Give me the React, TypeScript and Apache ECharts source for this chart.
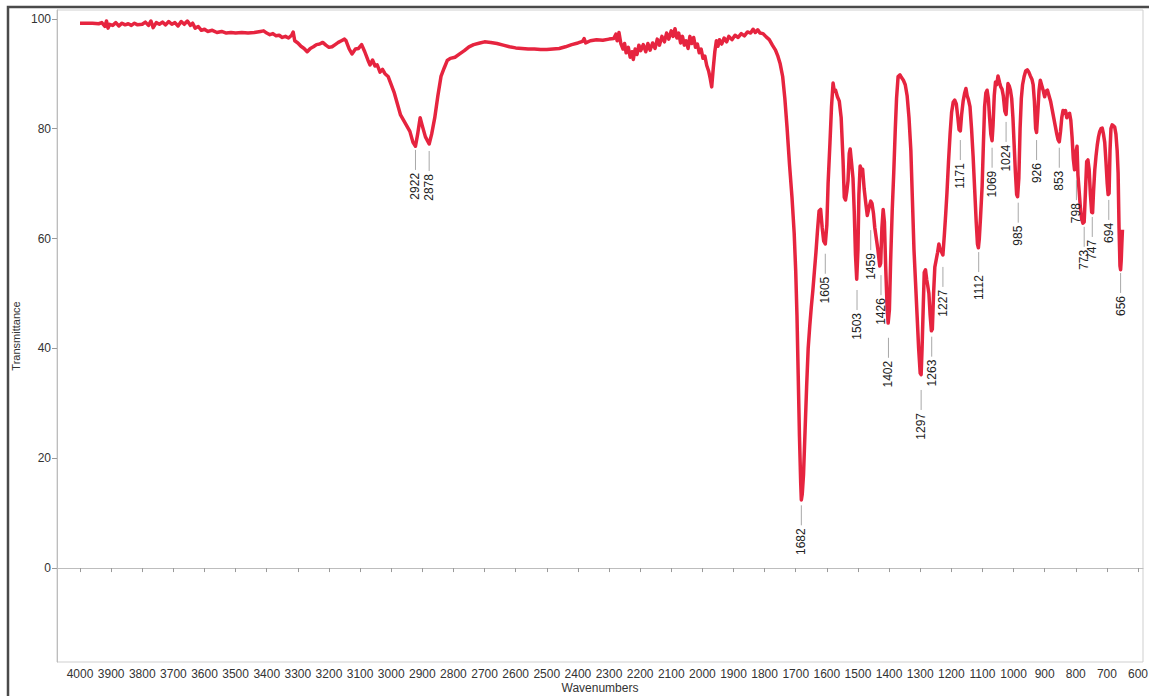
import React, { useEffect, useRef } from "react";
import * as echarts from "echarts";

// FTIR spectrum: [wavenumber (cm-1), transmittance (%)]
const spectrum: [number, number][] = [
  [4000, 99.2], [3980, 99.2], [3960, 99.2], [3940, 99.1], [3930, 99.3], [3920, 98.6], [3915, 99.6],
  [3910, 98.3], [3905, 99.0], [3895, 98.8], [3885, 99.3], [3875, 98.7], [3865, 99.2], [3855, 98.9],
  [3845, 99.1], [3835, 98.8], [3825, 99.2], [3815, 98.9], [3800, 99.0], [3790, 99.4], [3780, 98.8],
  [3772, 99.6], [3765, 98.4], [3755, 99.3], [3745, 99.0], [3735, 99.4], [3725, 98.9], [3715, 99.5],
  [3705, 99.0], [3695, 99.3], [3685, 98.7], [3675, 99.5], [3665, 99.0], [3655, 99.6], [3645, 98.8],
  [3638, 99.2], [3630, 98.3], [3620, 98.6], [3610, 97.9], [3600, 98.1], [3590, 97.7], [3575, 97.9],
  [3560, 97.5], [3545, 97.7], [3530, 97.4], [3515, 97.5], [3500, 97.4], [3480, 97.5], [3460, 97.4],
  [3440, 97.5], [3420, 97.7], [3410, 97.8], [3400, 97.4], [3390, 97.1], [3380, 97.3], [3370, 96.9],
  [3360, 97.0], [3350, 96.6], [3340, 96.8], [3330, 96.5], [3320, 97.0], [3315, 97.6], [3310, 96.0],
  [3300, 95.6], [3290, 95.0], [3280, 94.6], [3270, 94.0], [3260, 94.6], [3250, 94.9], [3240, 95.3],
  [3230, 95.4], [3220, 95.7], [3210, 95.2], [3200, 94.8], [3190, 94.9], [3180, 95.3], [3170, 95.7],
  [3160, 96.0], [3150, 96.3], [3145, 96.0], [3135, 94.5], [3126, 93.6], [3115, 94.5], [3105, 94.6],
  [3095, 95.3], [3085, 94.0], [3075, 92.5], [3068, 91.6], [3060, 92.5], [3052, 91.4], [3045, 91.6],
  [3036, 90.3], [3028, 90.8], [3020, 90.0], [3010, 89.5], [3000, 88.0], [2990, 86.5], [2980, 84.5],
  [2970, 82.5], [2960, 81.5], [2950, 80.5], [2940, 79.5], [2930, 77.5], [2922, 76.8], [2915, 79.0],
  [2907, 82.0], [2900, 80.5], [2890, 78.5], [2878, 77.2], [2870, 79.0], [2860, 82.0], [2850, 86.0],
  [2840, 89.5], [2830, 91.0], [2820, 92.4], [2810, 92.8], [2795, 93.0], [2780, 93.6], [2765, 94.2],
  [2750, 94.9], [2735, 95.3], [2715, 95.6], [2700, 95.8], [2680, 95.7], [2660, 95.5], [2640, 95.2],
  [2620, 94.9], [2600, 94.7], [2580, 94.6], [2560, 94.5], [2540, 94.5], [2520, 94.4], [2500, 94.4],
  [2480, 94.5], [2460, 94.6], [2440, 94.9], [2420, 95.3], [2400, 95.6], [2385, 95.9], [2380, 96.4],
  [2375, 95.6], [2360, 96.0], [2340, 96.2], [2320, 96.1], [2300, 96.3], [2285, 96.4], [2278, 97.2],
  [2274, 96.0], [2268, 97.5], [2262, 95.5], [2255, 94.5], [2250, 95.5], [2245, 93.8], [2238, 94.8],
  [2232, 93.0], [2226, 94.0], [2222, 92.6], [2216, 94.5], [2210, 93.5], [2204, 95.2], [2198, 94.2],
  [2190, 95.3], [2182, 94.0], [2175, 95.5], [2168, 94.3], [2160, 95.6], [2152, 94.6], [2145, 96.3],
  [2138, 95.2], [2130, 96.8], [2122, 95.8], [2115, 97.4], [2108, 96.3], [2100, 97.8], [2094, 96.8],
  [2088, 98.2], [2082, 96.5], [2076, 97.4], [2070, 95.6], [2064, 96.8], [2058, 95.2], [2052, 96.0],
  [2046, 94.6], [2040, 96.8], [2034, 95.5], [2028, 96.6], [2022, 94.8], [2016, 95.4], [2010, 93.8],
  [2004, 94.5], [1998, 92.8], [1992, 93.2], [1986, 91.5], [1980, 90.5], [1975, 89.2], [1970, 87.6],
  [1965, 91.0], [1960, 94.0], [1955, 96.0], [1950, 95.0], [1945, 96.2], [1938, 95.4], [1930, 96.5],
  [1922, 95.8], [1915, 96.8], [1905, 96.2], [1895, 97.0], [1885, 96.6], [1875, 97.3], [1865, 96.9],
  [1855, 97.6], [1845, 97.4], [1837, 98.1], [1830, 97.5], [1822, 98.0], [1815, 97.4], [1805, 97.3],
  [1795, 96.7], [1785, 96.2], [1775, 95.2], [1765, 94.3], [1758, 93.3], [1750, 91.8], [1742, 89.5],
  [1735, 85.5], [1728, 80.3], [1720, 73.5], [1712, 67.5], [1705, 61.0], [1700, 54.0], [1696, 46.0],
  [1692, 35.0], [1688, 24.0], [1684, 15.5], [1682, 12.4], [1679, 13.5], [1675, 17.0], [1670, 25.0],
  [1665, 33.0], [1660, 40.0], [1655, 44.0], [1650, 47.5], [1645, 50.5], [1640, 54.0], [1635, 57.5],
  [1630, 61.5], [1625, 65.0], [1620, 65.3], [1615, 62.0], [1610, 59.5], [1605, 59.0], [1600, 62.5],
  [1596, 70.0], [1590, 77.4], [1585, 84.0], [1580, 88.3], [1576, 86.8], [1572, 87.0], [1566, 85.8],
  [1560, 85.0], [1554, 82.0], [1548, 74.3], [1544, 67.5], [1540, 67.0], [1536, 68.5], [1532, 70.5],
  [1528, 75.5], [1525, 76.3], [1521, 74.0], [1516, 71.0], [1512, 65.0], [1508, 57.0], [1504, 52.6],
  [1500, 58.0], [1497, 68.0], [1493, 73.2], [1489, 72.5], [1485, 72.6], [1480, 69.0], [1475, 66.5],
  [1470, 64.2], [1465, 65.5], [1459, 66.8], [1455, 66.4], [1450, 64.5], [1446, 62.0], [1441, 60.0],
  [1436, 58.0], [1430, 55.0], [1427, 55.5], [1423, 62.0], [1419, 65.3], [1415, 63.0], [1411, 55.0],
  [1406, 47.0], [1403, 44.6], [1399, 47.0], [1395, 56.0], [1390, 65.0], [1385, 72.0], [1380, 80.0],
  [1376, 85.5], [1371, 89.5], [1365, 89.8], [1360, 89.3], [1354, 88.8], [1348, 88.0], [1342, 86.0],
  [1336, 82.0], [1330, 76.0], [1325, 67.0], [1320, 58.0], [1315, 52.0], [1310, 46.0], [1305, 40.0],
  [1300, 35.5], [1297, 35.2], [1294, 40.0], [1290, 48.0], [1287, 53.8], [1283, 54.3], [1279, 52.5],
  [1276, 51.5], [1272, 50.0], [1268, 46.0], [1264, 43.2], [1261, 43.5], [1257, 50.0], [1253, 54.8],
  [1249, 56.0], [1244, 57.5], [1240, 59.0], [1236, 58.0], [1231, 57.5], [1227, 57.0], [1222, 61.0],
  [1218, 64.5], [1214, 68.3], [1209, 74.0], [1204, 79.0], [1199, 83.0], [1194, 84.8], [1189, 85.2],
  [1184, 84.5], [1179, 82.0], [1175, 79.8], [1171, 79.6], [1167, 82.5], [1162, 85.0], [1157, 86.5],
  [1153, 87.3], [1149, 86.0], [1145, 85.3], [1140, 84.0], [1135, 80.0], [1130, 75.0], [1125, 69.0],
  [1120, 63.0], [1116, 59.0], [1113, 58.3], [1110, 60.0], [1106, 64.0], [1101, 69.5], [1097, 77.0],
  [1093, 84.0], [1089, 86.5], [1085, 87.0], [1081, 85.5], [1077, 82.0], [1073, 79.0], [1069, 77.8],
  [1066, 80.5], [1062, 86.0], [1058, 88.5], [1054, 88.0], [1050, 89.6], [1045, 88.4], [1041, 87.6],
  [1037, 87.2], [1033, 86.0], [1028, 83.2], [1024, 82.6], [1021, 85.5], [1018, 88.2], [1014, 87.8],
  [1010, 87.0], [1006, 85.5], [1002, 82.0], [998, 77.0], [994, 72.0], [990, 68.0], [987, 67.6],
  [983, 71.0], [979, 80.0], [975, 85.5], [971, 88.0], [966, 89.5], [961, 90.5], [956, 90.7],
  [951, 90.3], [946, 89.6], [941, 89.0], [937, 88.0], [933, 85.0], [929, 80.0], [926, 79.3],
  [922, 83.0], [918, 87.0], [914, 88.8], [910, 88.0], [905, 87.0], [900, 85.8], [896, 86.8],
  [891, 87.0], [886, 86.0], [881, 85.0], [876, 83.5], [871, 82.0], [866, 80.5], [861, 79.0],
  [857, 78.0], [853, 77.6], [849, 79.5], [845, 82.0], [841, 83.3], [837, 82.8], [833, 83.3],
  [829, 82.0], [824, 82.6], [820, 82.8], [816, 81.5], [812, 78.5], [808, 74.5], [804, 72.5],
  [800, 75.5], [796, 76.8], [793, 71.5], [789, 68.5], [785, 65.5], [781, 63.5], [777, 62.8],
  [773, 63.0], [769, 68.5], [765, 74.0], [761, 74.3], [757, 72.5], [753, 68.0], [749, 64.8],
  [746, 64.7], [743, 68.5], [739, 72.5], [735, 75.0], [731, 77.0], [727, 78.5], [723, 79.5],
  [719, 80.0], [715, 80.1], [711, 79.0], [707, 77.5], [703, 74.0], [699, 70.0], [696, 68.0],
  [693, 68.2], [690, 76.0], [687, 80.0], [683, 80.7], [679, 80.5], [675, 80.3], [671, 79.0],
  [667, 76.0], [664, 72.0], [661, 62.0], [658, 55.0], [656, 54.3], [654, 56.0], [652, 59.0],
  [650, 61.6],
];

// Annotated band positions (cm-1) and the transmittance level each marker hangs from
const peakWavenumbers = [
  2922, 2878, 1682, 1605, 1503, 1459, 1426, 1402, 1297, 1263, 1227, 1171,
  1112, 1069, 1024, 985, 926, 853, 798, 773, 747, 694, 656,
];
const peakDepths = [
  77.4, 77.2, 12.7, 58.5, 51.9, 62.8, 54.6, 43.2, 33.7, 43.4, 56.1, 79.2,
  58.8, 77.8, 82.5, 67.8, 79.2, 77.8, 71.9, 63.4, 65.2, 68.3, 55.0,
];

const xTickValues = [
  4000, 3900, 3800, 3700, 3600, 3500, 3400, 3300, 3200, 3100, 3000, 2900,
  2800, 2700, 2600, 2500, 2400, 2300, 2200, 2100, 2000, 1900, 1800, 1700,
  1600, 1500, 1400, 1300, 1200, 1100, 1000, 900, 800, 700, 600,
];
const yTickValues = [0, 20, 40, 60, 80, 100];

const FONT = "'Liberation Sans', Arial, Helvetica, sans-serif";

export default function App() {
  const ref = useRef<HTMLDivElement>(null);

  useEffect(() => {
    if (!ref.current) return;
    const chart = echarts.init(ref.current, undefined, {
      renderer: "svg",
      width: 1149,
      height: 696,
    });

    const peakData = peakWavenumbers.map((w, i) => [w, peakDepths[i]]);

    chart.setOption({
      animation: false,
      backgroundColor: "#ffffff",
      textStyle: { fontFamily: FONT },
      grid: {
        left: 57,
        right: 6,
        top: 10,
        bottom: 34,
        show: true,
        borderColor: "#cfcfcf",
        borderWidth: 1,
        containLabel: false,
        outerBoundsMode: "none",
      },
      xAxis: {
        type: "value",
        inverse: true,
        min: 584,
        max: 4074,
        name: "Wavenumbers",
        nameLocation: "middle",
        nameGap: 20,
        nameMoveOverlap: false,
        nameTextStyle: { fontSize: 12, color: "#333", fontFamily: FONT },
        axisLine: { show: true, lineStyle: { color: "#bdbdbd", width: 1 } },
        axisTick: {
          show: true,
          customValues: xTickValues,
          length: 4,
          lineStyle: { color: "#9a9a9a" },
        },
        axisLabel: {
          customValues: xTickValues,
          fontSize: 12,
          color: "#333",
          margin: 6,
          fontFamily: FONT,
          hideOverlap: false,
          formatter: (v: number) => String(Math.round(v)),
        },
        splitLine: { show: false },
      },
      yAxis: {
        type: "value",
        min: -17.1,
        max: 101.6,
        name: "Transmittance",
        nameLocation: "middle",
        nameGap: 36,
        nameMoveOverlap: false,
        nameTextStyle: { fontSize: 11, color: "#333", fontFamily: FONT },
        axisLine: { show: true, lineStyle: { color: "#bdbdbd", width: 1 } },
        axisTick: {
          show: true,
          customValues: yTickValues,
          length: 5,
          lineStyle: { color: "#9a9a9a" },
        },
        axisLabel: {
          customValues: yTickValues,
          fontSize: 12,
          color: "#333",
          margin: 6,
          fontFamily: FONT,
          formatter: (v: number) => String(Math.round(v)),
        },
        splitLine: { show: false },
      },
      graphic: [
        {
          type: "rect",
          shape: { x: 8, y: 7, width: 1200, height: 760 },
          style: { fill: "none", stroke: "#4a4a4a", lineWidth: 2.5 },
          silent: true,
        },
      ],
      series: [
        {
          type: "line",
          data: spectrum,
          showSymbol: false,
          symbol: "none",
          smooth: false,
          clip: true,
          lineStyle: { color: "#e6243f", width: 3.5, join: "round" },
          z: 3,
        },
        {
          type: "custom",
          coordinateSystem: "cartesian2d",
          data: peakData,
          encode: { x: 0, y: 1 },
          z: 4,
          renderItem: (params: any, api: any) => {
            const w = api.value(0);
            const p = api.coord([w, api.value(1)]);
            return {
              type: "group",
              children: [
                {
                  type: "line",
                  shape: { x1: p[0], y1: p[1] + 7, x2: p[0], y2: p[1] + 27 },
                  style: { stroke: "#a8a8a8", lineWidth: 1 },
                },
                {
                  type: "text",
                  x: p[0],
                  y: p[1] + 30,
                  rotation: Math.PI / 2,
                  style: {
                    text: String(w),
                    align: "right",
                    verticalAlign: "middle",
                    fontSize: 12,
                    fontFamily: FONT,
                    fill: "#222",
                  },
                },
              ],
            };
          },
        },
      ],
    });

    return () => {
      chart.dispose();
    };
  }, []);

  return (
    <div
      ref={ref}
      style={{ position: "fixed", left: 0, top: 0, width: 1149, height: 696 }}
    />
  );
}
